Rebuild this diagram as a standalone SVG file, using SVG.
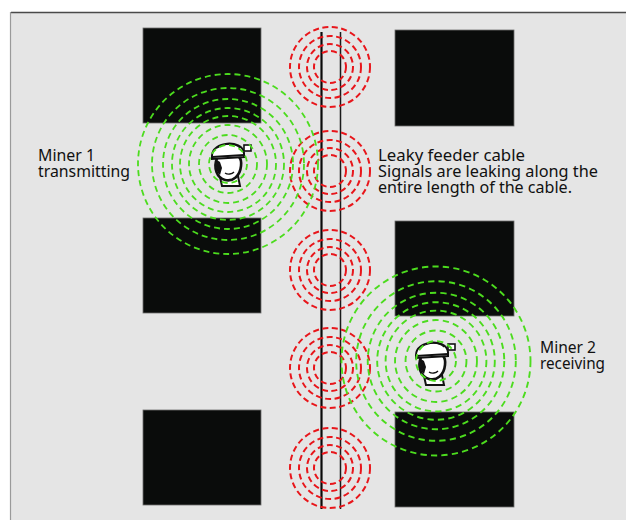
<svg xmlns="http://www.w3.org/2000/svg" xmlns:xlink="http://www.w3.org/1999/xlink" width="626" height="520" viewBox="0 0 626 520">
  <style>
    .pillar { fill: #0a0c0b; stroke: #6e6e6e; stroke-width: 0.8; }
    .leak { fill: none; stroke: #e8161b; stroke-width: 2; stroke-dasharray: 6 3.5; }
    .wave { fill: none; stroke: #4cdc1e; stroke-width: 1.8; stroke-dasharray: 6 4; }
    .label { font-family: "Noto Sans", "Open Sans", "DejaVu Sans", sans-serif; font-size: 15.5px; fill: #111; }
  </style>
  <defs>
    <!-- miner head with helmet and cap lamp -->
    <g id="miner">
      <path d="M-9,15 L-7,24 L11,24 L9,14 Z" fill="#fff" stroke="#111" stroke-width="2"/>
      <path d="M-12,-4 C-16,6 -12,16 -4,18 C4,20 11,14 12,4 C13,-4 10,-8 0,-8 C-6,-8 -10,-7 -12,-4 Z" fill="#fff" stroke="#111" stroke-width="2.6"/>
      <path d="M-12,-2 C-14,4 -13,10 -9,13 L-7,6 L-9,0 Z" fill="#111"/>
      <path d="M-4,11 C-1,13 3,12 5,10" fill="none" stroke="#111" stroke-width="1.4"/>
      <path d="M-17,-6 C-17,-21 13,-23 15,-9 L15,-5 L-17,-3 Z" fill="#fff" stroke="#111" stroke-width="2"/>
      <path d="M-17,-5 L15,-7" stroke="#111" stroke-width="2.2"/>
      <path d="M-12,-14 C-4,-19 6,-19 11,-14" fill="none" stroke="#111" stroke-width="1.2"/>
      <rect x="15" y="-17" width="7" height="6" fill="#fff" stroke="#111" stroke-width="1.6"/>
    </g>
    <!-- signal radiating from the cable -->
    <g id="leakRings">
      <circle r="40" class="leak"/>
      <circle r="31" class="leak"/>
      <circle r="23" class="leak"/>
      <circle r="16" class="leak"/>
    </g>
    <!-- radio waves around a handset -->
    <g id="waves">
      <circle r="19" class="wave"/>
      <circle r="29" class="wave"/>
      <circle r="39" class="wave"/>
      <circle r="48" class="wave"/>
      <circle r="56" class="wave"/>
      <circle r="65" class="wave"/>
      <circle r="76" class="wave"/>
      <circle r="90" class="wave"/>
    </g>
  </defs>

  <!-- background panel -->
  <rect x="0" y="0" width="626" height="520" fill="#fff"/>
  <rect x="11" y="12" width="615" height="508" fill="#e5e5e5"/>
  <line x1="11" y1="12.5" x2="626" y2="12.5" stroke="#4a4a4a" stroke-width="1.5"/>
  <line x1="10.5" y1="12" x2="10.5" y2="520" stroke="#9a9a9a" stroke-width="1.2"/>

  <!-- coal pillars -->
  <g id="pillars">
    <rect class="pillar" x="143" y="28" width="118" height="95"/>
    <rect class="pillar" x="395" y="30" width="119" height="96"/>
    <rect class="pillar" x="143" y="218" width="118" height="95"/>
    <rect class="pillar" x="395" y="221" width="119" height="95"/>
    <rect class="pillar" x="143" y="410" width="118" height="95"/>
    <rect class="pillar" x="395" y="412" width="119" height="95"/>
  </g>

  <!-- leaky feeder cable -->
  <g id="connectors">
    <line x1="321.5" y1="32" x2="321.5" y2="509" stroke="#0a0a0a" stroke-width="2.2"/>
    <line x1="340.5" y1="32" x2="340.5" y2="509" stroke="#1a1a1a" stroke-width="1.5"/>
  </g>

  <g id="cable-leaks">
    <use xlink:href="#leakRings" x="330" y="67"/>
    <use xlink:href="#leakRings" x="330" y="171"/>
    <use xlink:href="#leakRings" x="330" y="270"/>
    <use xlink:href="#leakRings" x="330" y="368"/>
    <use xlink:href="#leakRings" x="330" y="468"/>
  </g>

  <g id="miner1">
    <use xlink:href="#miner" x="229" y="162"/>
    <use xlink:href="#waves" x="228" y="164"/>
    <text class="label" x="38" y="161" textLength="57" lengthAdjust="spacingAndGlyphs">Miner 1</text>
    <text class="label" x="38" y="177" textLength="92" lengthAdjust="spacingAndGlyphs">transmitting</text>
  </g>

  <g id="miner2">
    <use xlink:href="#miner" x="433" y="361"/>
    <use xlink:href="#waves" x="436" y="361" transform="translate(436 361) scale(1.05) translate(-436 -361)"/>
    <text class="label" x="540" y="353" textLength="56" lengthAdjust="spacingAndGlyphs">Miner 2</text>
    <text class="label" x="540" y="369" textLength="65" lengthAdjust="spacingAndGlyphs">receiving</text>
  </g>

  <g id="cable-label">
    <text class="label" x="378" y="161" textLength="147" lengthAdjust="spacingAndGlyphs">Leaky feeder cable</text>
    <text class="label" x="378" y="177" textLength="220" lengthAdjust="spacingAndGlyphs">Signals are leaking along the</text>
    <text class="label" x="378" y="193" textLength="194" lengthAdjust="spacingAndGlyphs">entire length of the cable.</text>
  </g>
</svg>
